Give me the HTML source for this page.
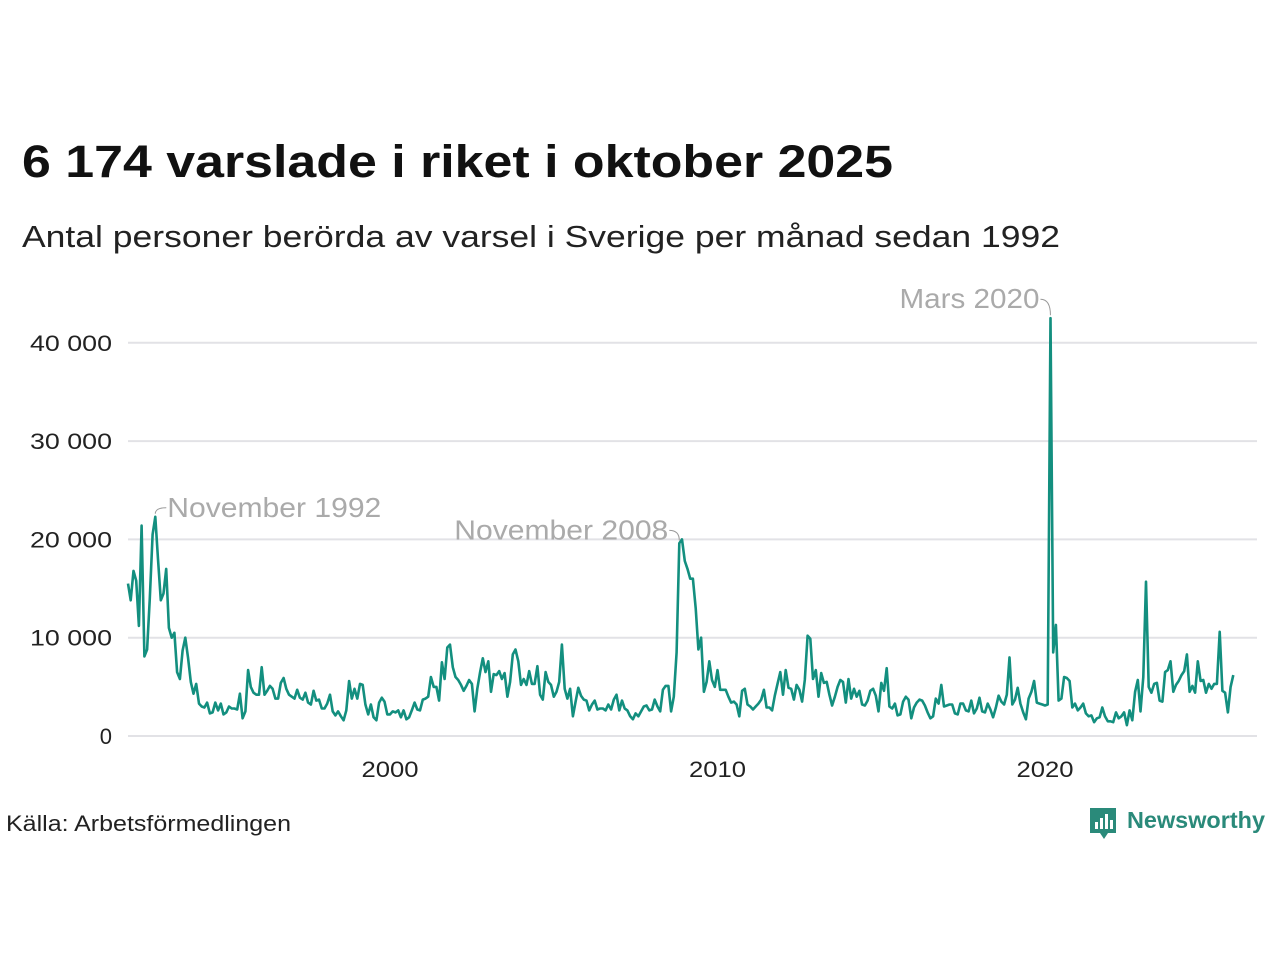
<!DOCTYPE html>
<html><head><meta charset="utf-8"><style>
body{margin:0;background:#fff;width:1280px;height:960px;overflow:hidden}
svg text{font-family:"Liberation Sans","DejaVu Sans",sans-serif}
</style></head><body>
<svg id="chart" width="1280" height="960" xmlns="http://www.w3.org/2000/svg">
<text x="22" y="177" font-size="45" font-weight="bold" fill="#111" textLength="871" lengthAdjust="spacingAndGlyphs">6 174 varslade i riket i oktober 2025</text>
<text x="22" y="247" font-size="31" fill="#222" textLength="1038" lengthAdjust="spacingAndGlyphs">Antal personer berörda av varsel i Sverige per månad sedan 1992</text>
<g id="grid"></g><g id="yticks"></g><g id="xticks"></g>
<path id="line" fill="none" stroke="#138f7f" stroke-width="2.6" stroke-linejoin="round"/>
<g id="annos"></g>
<text x="6" y="831" font-size="22" fill="#222" textLength="285" lengthAdjust="spacingAndGlyphs">Källa: Arbetsförmedlingen</text>
<g>
<path d="M1090 808h26v25h-8l-4 6-4-6h-10z" fill="#2a8a7a"/>
<rect x="1095" y="822" width="3" height="7" fill="#fff"/><rect x="1100" y="818" width="3" height="11" fill="#fff"/><rect x="1105" y="814" width="3" height="15" fill="#fff"/><rect x="1110" y="820" width="3" height="9" fill="#fff"/>
<text x="1127" y="828" font-size="23" font-weight="bold" fill="#2a8a7a" textLength="138" lengthAdjust="spacingAndGlyphs">Newsworthy</text>
</g>
</svg>
<script>
const startYear = 1992;
const values = [
15.5,13.8,16.8,15.8,11.2,21.4,8.1,8.8,14,20.5,22.3,18,
13.8,14.5,17,11,10,10.5,6.5,5.8,8.7,10,8,5.5,
4.3,5.3,3.3,3,2.9,3.4,2.3,2.4,3.4,2.6,3.3,2.2,
2.4,3,2.8,2.8,2.7,4.3,1.8,2.5,6.7,5,4.4,4.2,
4.2,7,4.2,4.6,5.1,4.8,3.8,3.8,5.4,5.9,4.8,4.2,
4,3.8,4.7,3.9,3.7,4.4,3.4,3.2,4.6,3.6,3.7,2.8,
2.8,3.3,4.2,2.5,2.1,2.5,2,1.6,2.6,5.6,3.8,4.8,
3.8,5.3,5.2,3.2,2.2,3.2,1.9,1.6,3.4,3.9,3.5,2.2,
2.2,2.5,2.4,2.6,1.9,2.6,1.7,1.9,2.6,3.4,2.7,2.6,
3.7,3.8,4,6,5,5,3.6,7.5,5.8,9,9.3,7,
6,5.7,5.2,4.6,5.1,5.7,5.3,2.5,4.8,6.5,7.9,6.5,
7.6,4.5,6.3,6.2,6.6,5.8,6.4,4,5.5,8.3,8.8,7.6,
5.2,5.8,5.2,6.6,5.3,5.3,7.1,4.2,3.7,6.5,5.5,5.2,
4,4.5,5.5,9.3,4.8,3.8,4.8,2,3.5,4.9,4.1,3.7,
3.6,2.6,3.2,3.6,2.7,2.8,2.8,2.6,3.2,2.7,3.7,4.2,
2.6,3.6,2.8,2.6,2,1.7,2.3,2,2.5,3,3.1,2.6,
2.7,3.7,3,2.5,4.7,5.1,5.1,2.5,4,8.5,19.6,20,
17.8,17,16,16,13,8.8,10,4.5,5.5,7.6,5.7,5,
6.7,4.7,4.7,4.7,4,3.4,3.5,3.2,2,4.6,4.8,3.2,
3,2.7,3,3.3,3.7,4.7,2.9,2.9,2.6,4.1,5.3,6.5,
4.2,6.7,4.9,4.8,3.7,5.2,4.7,3.5,5.7,10.2,9.9,5.8,
6.7,4,6.4,5.4,5.5,4.2,3.1,4,5,5.7,5.5,3.4,
5.8,3.8,4.8,4,4.6,3.2,3.1,3.6,4.6,4.8,4.1,2.5,
5.4,4.6,6.9,3,2.8,3.3,2.1,2.2,3.5,4,3.7,1.8,
2.9,3.4,3.7,3.6,3.1,2.4,1.8,2,3.8,3.3,5.2,3,
3.1,3.2,3.2,2.3,2.2,3.3,3.3,2.6,2.5,3.6,2.3,2.8,
3.9,2.5,2.4,3.3,2.7,1.9,2.9,4.1,3.5,3.2,4.2,8,
3.2,3.7,4.9,3.3,2.4,1.7,3.8,4.5,5.6,3.4,3.3,3.2,
3.1,3.2,42.5,8.5,11.3,3.6,3.8,6,5.9,5.6,2.9,3.3,
2.6,2.9,3.3,2.3,2,2.1,1.4,1.8,1.9,2.9,2,1.5,
1.5,1.4,2.4,1.8,2,2.4,1.1,2.6,1.6,4.5,5.7,2.5,
6,15.7,5,4.4,5.3,5.4,3.6,3.5,6.5,6.7,7.6,4.5,
5.2,5.6,6.2,6.6,8.3,4.5,5.1,4.4,7.6,5.6,5.7,4.4,
5.3,4.8,5.3,5.3,10.6,4.6,4.4,2.4,5,6.2
];
const yTicks = [0,10,20,30,40];
const yTickLabels = ["0","10 000","20 000","30 000","40 000"];
const xTicks = [2000,2010,2020];
const annoIdx = [10, 202, 338];
const annoLabels = ["November 1992","November 2008","Mars 2020"];

const NS="http://www.w3.org/2000/svg";
const x = t => 128 + (t - startYear) * 32.75;
const xi = i => x(startYear + i/12);
const y = v => 736 - v * 9.83;
function mk(tag, attrs, parent){const e=document.createElementNS(NS,tag);for(const k in attrs)e.setAttribute(k,attrs[k]);document.getElementById(parent).appendChild(e);return e;}

yTicks.forEach((v,i)=>{
  const g = mk('line',{x1:128,x2:1257,y1:y(v),y2:y(v),stroke:'#e2e2e6','stroke-width':2},'grid');
  
  
  const lab = yTickLabels[i];
  const attrs = {x:112,y:y(v)+8,'text-anchor':'end','font-size':22,fill:'#222'};
  if(lab.length>1){attrs.textLength=82;attrs.lengthAdjust='spacingAndGlyphs';}
  const t = mk('text',attrs,'yticks');
  
  
  t.textContent = lab;
});
xTicks.forEach(yr=>{
  const t = mk('text',{x:x(yr),y:777,'text-anchor':'middle','font-size':22,fill:'#222',textLength:57,lengthAdjust:'spacingAndGlyphs'},'xticks');
  
  
  t.textContent = yr;
});
document.getElementById('line').setAttribute('d', values.map((v,i)=>(i?'L':'M')+xi(i).toFixed(1)+' '+y(v).toFixed(1)).join(''));

const annoW = [214, 214, 140];
const annoDy = [5, 0, -6];
annoIdx.forEach((idx,k)=>{
  const px = xi(idx), py = y(values[idx]) - 3;
  let tx, ty, anchor, path;
  if(k===0){ tx=px+11; ty=py-11+annoDy[k]; anchor='start'; }
  else { tx=px-10; ty=py-10+annoDy[k]; anchor='end'; }
  path=`M${px} ${py} Q${px} ${ty} ${tx} ${ty}`;
  const p = mk('path',{d:path,fill:'none',stroke:'#999','stroke-width':1},'annos');
  
  
  const t = mk('text',{x:tx+(k===0?1:-1),y:ty+9,'text-anchor':anchor,'font-size':28,fill:'#aaa',textLength:annoW[k],lengthAdjust:'spacingAndGlyphs'},'annos');
  
  
  t.textContent = annoLabels[k];
});
</script>
</body></html>
